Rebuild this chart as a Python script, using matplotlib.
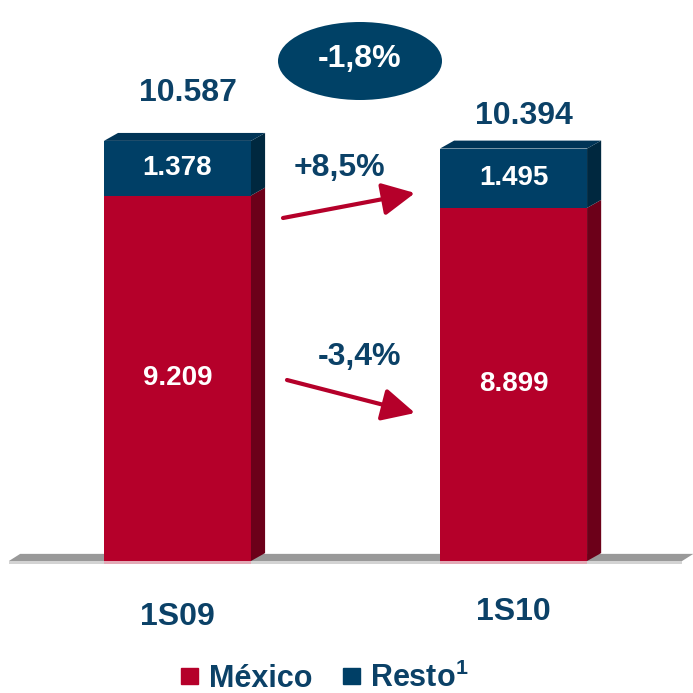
import matplotlib.pyplot as plt
from matplotlib.patches import Polygon, Ellipse, Patch

# datos
periods = ['1S09', '1S10']
mexico = [9209, 8899]
resto = [1378, 1495]
totals = [10587, 10394]
growth_resto = '+8,5%'
growth_mexico = '-3,4%'
growth_total = '-1,8%'
series_names = ['México', r'Resto$^{\mathbf{1}}$']

# colores
RED = '#B5002A'
RED_SIDE = '#6C0019'
BLUE = '#003F66'
BLUE_SIDE = '#00283F'
BLUE_TOP = '#003456'
NAVY = '#0B4167'

plt.rcParams['font.family'] = ['Liberation Sans', 'DejaVu Sans']
plt.rcParams['font.weight'] = 'bold'
plt.rcParams['mathtext.fontset'] = 'custom'
plt.rcParams['mathtext.bf'] = 'Liberation Sans:bold'
plt.rcParams['mathtext.rm'] = 'Liberation Sans:bold'

fig = plt.figure(figsize=(6.93, 6.93), dpi=100)
ax = fig.add_axes([0, 0, 1, 1])
ax.set_xlim(-0.528, 1.534)
ax.set_ylim(-3326, 14137)
ax.axis('off')

x = [0, 1]
w = 0.4375
dx = 0.042     # profundidad 3D (horizontal)
dy = 200       # profundidad 3D (vertical)


def px(a, b):
    return (a / 693, 1 - b / 693)


# suelo
L, R = -0.5015, 1.5015
ax.add_patch(Polygon([(L, 0), (L + dx * 0.8, dy * 0.9), (R + dx * 0.8, dy * 0.9), (R, 0)],
                     closed=True, facecolor='#999999', edgecolor='none', zorder=1))
ax.add_patch(Polygon([(L, -80), (L, 0), (R, 0), (R, -80)],
                     closed=True, facecolor='#D3D3D3', edgecolor='none', zorder=1))

# barras
ax.bar(x, mexico, width=w, color=RED, zorder=3)
ax.bar(x, resto, width=w, bottom=mexico, color=BLUE, zorder=3)
ax.bar(x, [-80, -80], width=w, color='#E2AAB6', zorder=2)

for xi, m, r in zip(x, mexico, resto):
    xr = xi + w / 2
    xl = xi - w / 2
    t = m + r
    ax.add_patch(Polygon([(xr, 0), (xr + dx, dy), (xr + dx, m + dy), (xr, m)],
                         closed=True, facecolor=RED_SIDE, edgecolor='none', zorder=3))
    ax.add_patch(Polygon([(xr, m), (xr + dx, m + dy), (xr + dx, t + dy), (xr, t)],
                         closed=True, facecolor=BLUE_SIDE, edgecolor='none', zorder=3))
    ax.add_patch(Polygon([(xl, t), (xl + dx, t + dy), (xr + dx, t + dy), (xr, t)],
                         closed=True, facecolor=BLUE_TOP, edgecolor='none', zorder=3))
    ax.text(xi, m / 2, f'{m:,}'.replace(',', '.'), ha='center', va='center',
            color='white', fontsize=20, zorder=4)
    ax.text(xi, m + r / 2, f'{r:,}'.replace(',', '.'), ha='center', va='center',
            color='white', fontsize=20, zorder=4)

# totales
total_offsets = [48, 33]
for xi, t, off in zip(x, totals, total_offsets):
    ax.annotate(f'{t:,}'.replace(',', '.'), (xi + 0.03, t), xytext=(0, off),
                textcoords='offset pixels', ha='center', va='center',
                color=NAVY, fontsize=23)

# etiquetas de periodo
ax.text(0, -1410, periods[0], ha='center', va='center', color=NAVY, fontsize=23)
ax.text(1, -1290, periods[1], ha='center', va='center', color=NAVY, fontsize=23)

# flechas de crecimiento
arrow = dict(arrowstyle='-|>,head_length=1.0,head_width=0.5', color=RED, lw=3,
             shrinkA=0, shrinkB=0, mutation_scale=20)
ax.annotate('', xy=px(415, 193), xytext=px(283, 218), xycoords='figure fraction',
            textcoords='figure fraction', arrowprops=arrow)
ax.annotate('', xy=px(415, 413), xytext=px(287, 380), xycoords='figure fraction',
            textcoords='figure fraction', arrowprops=arrow)
fig.text(*px(339, 168), growth_resto, ha='center', va='center', color=NAVY, fontsize=23)
fig.text(*px(360, 357), growth_mexico, ha='center', va='center', color=NAVY, fontsize=23)

# elipse total
fig.patches.append(Ellipse(px(360, 61), 164 / 693, 78 / 693, transform=fig.transFigure,
                           facecolor='#004166', edgecolor='none'))
fig.text(*px(360, 59), growth_total, ha='center', va='center', color='white', fontsize=23)

# leyenda
handles = [Patch(color=RED, label=series_names[0]), Patch(color=BLUE, label=series_names[1])]
leg = fig.legend(handles=handles, loc='center', bbox_to_anchor=px(325, 678), ncol=2,
                 frameon=False, fontsize=22, handlelength=0.55, handleheight=0.45,
                 handletextpad=0.35, columnspacing=1.0, borderpad=0)
for txt in leg.get_texts():
    txt.set_color(NAVY)

fig.savefig('out.png', dpi=100)
